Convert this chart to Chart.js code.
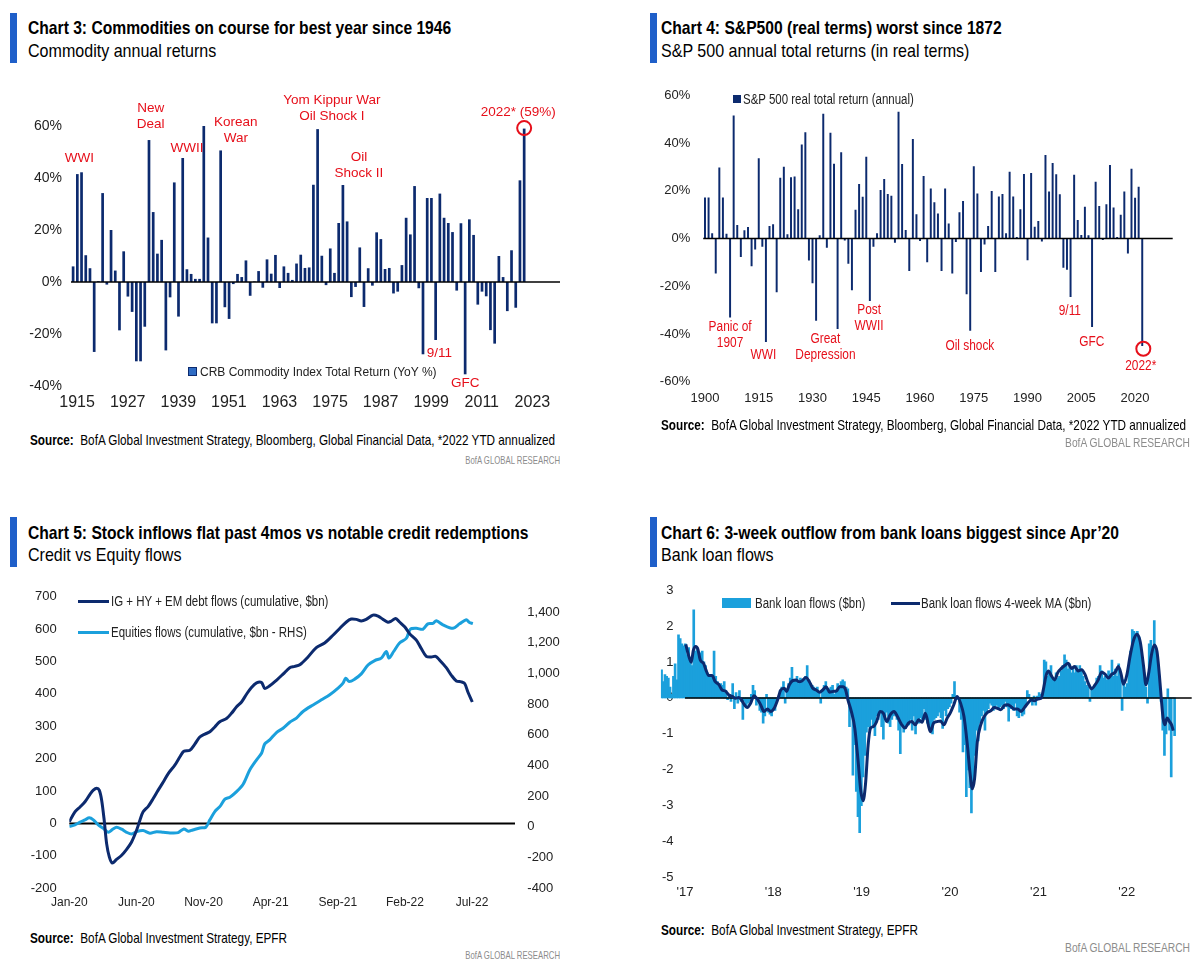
<!DOCTYPE html>
<html lang="en">
<head>
<meta charset="UTF-8">
<title>Commodities, S&amp;P 500, credit and bank loan flows</title>
<script src="https://cdn.jsdelivr.net/npm/chart.js"></script>
<style>
  body { margin: 0; background: #fff; color: #000;
         font-family: 'Liberation Sans', Arial, sans-serif; }
  #page { position: relative; width: 1201px; height: 970px; overflow: hidden; }
  .abs { position: absolute; white-space: nowrap; transform-origin: 0 50%; }
  .accent { position: absolute; width: 7px; height: 50px; background: #1f5fc9; }
  .title { font-weight: bold; font-size: 19px; line-height: 22px; transform: scaleX(0.823); }
  .subtitle { font-size: 19px; line-height: 22px; transform: scaleX(0.845); }
  .source { font-size: 14.5px; line-height: 18px; transform: scaleX(0.81); }
  .brand { font-size: 10.5px; line-height: 14px; color: #8c8c8c; text-align: right; width: 200px;
           transform: scaleX(0.74); transform-origin: 100% 50%; }
  .brand.big { font-size: 12.5px; transform: scaleX(0.82); }
  .legend { font-size: 14px; line-height: 16px; color: #222; transform: scaleX(0.82); }
  canvas { position: absolute; }
</style>
</head>
<body>
<div id="page">
  <!-- Chart 3 -->
  <div class="accent" style="left:10px;top:13px"></div>
  <div class="abs title" style="left:28px;top:17px">Chart 3: Commodities on course for best year since 1946</div>
  <div class="abs subtitle" style="left:28px;top:40px">Commodity annual returns</div>
  <canvas id="c3" width="600" height="340" style="left:0;top:80px;width:600px;height:340px"></canvas>
  <div class="abs" style="left:188px;top:367px;width:9px;height:9px;background:#2f6cc4;border:1.5px solid #0c2a6e;box-sizing:border-box"></div>
  <div class="abs legend" style="left:200px;top:364px;font-size:12px;transform:none">CRB Commodity Index Total Return (YoY %)</div>
  <div class="abs source" style="left:30px;top:431px"><b>Source:</b>&nbsp; BofA Global Investment Strategy, Bloomberg, Global Financial Data, *2022 YTD annualized</div>
  <div class="abs brand" style="left:360px;top:453px">BofA GLOBAL RESEARCH</div>

  <!-- Chart 4 -->
  <div class="accent" style="left:650px;top:13px"></div>
  <div class="abs title" style="left:661px;top:17px">Chart 4: S&amp;P500 (real terms) worst since 1872</div>
  <div class="abs subtitle" style="left:661px;top:40px">S&amp;P 500 annual total returns (in real terms)</div>
  <canvas id="c4" width="601" height="340" style="left:600px;top:80px;width:601px;height:340px"></canvas>
  <div class="abs" style="left:733px;top:95px;width:8px;height:8px;background:#0c2a6e"></div>
  <div class="abs legend" style="left:743px;top:91px">S&amp;P 500 real total return (annual)</div>
  <div class="abs source" style="left:661px;top:416px"><b>Source:</b>&nbsp; BofA Global Investment Strategy, Bloomberg, Global Financial Data, *2022 YTD annualized</div>
  <div class="abs brand big" style="left:990px;top:436px">BofA GLOBAL RESEARCH</div>

  <!-- Chart 5 -->
  <div class="accent" style="left:10px;top:517px"></div>
  <div class="abs title" style="left:28px;top:522px">Chart 5: Stock inflows flat past 4mos vs notable credit redemptions</div>
  <div class="abs subtitle" style="left:28px;top:544px">Credit vs Equity flows</div>
  <canvas id="c5" width="600" height="340" style="left:0;top:580px;width:600px;height:340px"></canvas>
  <div class="abs" style="left:78px;top:600px;width:31px;height:3px;background:#0c2a6e"></div>
  <div class="abs legend" style="left:111px;top:593px">IG + HY + EM debt flows (cumulative, $bn)</div>
  <div class="abs" style="left:78px;top:631px;width:31px;height:3px;background:#1ba0dc"></div>
  <div class="abs legend" style="left:111px;top:624px">Equities flows (cumulative, $bn - RHS)</div>
  <div class="abs source" style="left:30px;top:929px"><b>Source:</b>&nbsp; BofA Global Investment Strategy, EPFR</div>
  <div class="abs brand" style="left:360px;top:948px">BofA GLOBAL RESEARCH</div>

  <!-- Chart 6 -->
  <div class="accent" style="left:650px;top:517px"></div>
  <div class="abs title" style="left:661px;top:522px">Chart 6: 3-week outflow from bank loans biggest since Apr’20</div>
  <div class="abs subtitle" style="left:661px;top:544px">Bank loan flows</div>
  <canvas id="c6" width="601" height="340" style="left:600px;top:580px;width:601px;height:340px"></canvas>
  <div class="abs" style="left:722px;top:598px;width:29px;height:10px;background:#1ba0dc"></div>
  <div class="abs legend" style="left:755px;top:595px">Bank loan flows ($bn)</div>
  <div class="abs" style="left:891px;top:602px;width:29px;height:3px;background:#0c2a6e"></div>
  <div class="abs legend" style="left:921px;top:595px">Bank loan flows 4-week MA ($bn)</div>
  <div class="abs source" style="left:661px;top:921px"><b>Source:</b>&nbsp; BofA Global Investment Strategy, EPFR</div>
  <div class="abs brand big" style="left:990px;top:941px">BofA GLOBAL RESEARCH</div>
</div>

<script>
// ---- data: chart 3, CRB commodity index total return, 1915-2022 (%)
const crbYears = Array.from({ length: 116 }, (_, i) => 1915 + i);
const crbTicks = [-40, -20, 0, 20, 40, 60];
const crbReturns = [
  6.0, 41.5, 42.2, 10.3, 5.3, -26.9, 0.3, 34.2, -1.0, 20.0,
  4.4, -18.6, 11.8, -5.6, -11.5, -30.5, -30.5, -17.2, 54.6, 26.9,
  10.9, 16.2, -26.3, -5.9, 38.3, -13.3, 47.7, 4.9, 3.1, 1.2,
  1.2, 60.0, 17.1, -15.9, -15.9, 50.6, -9.7, -14.2, -0.8, 3.1,
  1.9, 8.3, -5.3, 0.2, 4.2, -2.2, 8.7, 3.2, 10.4, -2.3,
  6.0, 3.5, 0.8, 7.1, 10.5, 5.4, 5.6, 37.4, 58.8, 10.1,
  -1.2, 12.9, 3.5, 22.7, 37.3, 23.3, -5.8, -1.9, 13.3, -9.6,
  5.3, -1.4, 19.1, 16.5, 5.0, 5.4, -4.4, -3.7, 6.5, 24.7,
  18.3, 36.9, -2.4, -27.8, 32.3, 32.3, -22.3, 34.0, 24.7, 22.7,
  19.2, -3.3, 22.6, -35.5, 24.1, 18.1, -8.7, -3.7, -5.5, -18.5,
  -23.7, 10.0, 1.9, -11.2, 12.2, -9.9, 39.1, 59.0
];
const crbNotes = [
  { text: ['WWI'], year: 1916.5, y: 47.5 },
  { text: ['New', 'Deal'], year: 1933.4, y: 63.8 },
  { text: ['WWII'], year: 1942.0, y: 51.5 },
  { text: ['Korean', 'War'], year: 1953.6, y: 58.4 },
  { text: ['Yom Kippur War', 'Oil Shock I'], year: 1976.4, y: 66.8 },
  { text: ['Oil', 'Shock II'], year: 1982.8, y: 44.8 },
  { text: ['9/11'], year: 2001.9, y: -27.3 },
  { text: ['GFC'], year: 2008.0, y: -39.1 },
  { text: ['2022* (59%)'], year: 2020.6, y: 65.2 }
];
const crbCircle = { year: 2022, y: 59.2 };

// ---- data: chart 4, S&P 500 real total return, 1900-2022 (%)
const spxYears = Array.from({ length: 131 }, (_, i) => 1900 + i);
const spxTicks = [-60, -40, -20, 0, 20, 40, 60];
const spxReturns = [
  17.2, 17.2, 2.2, -14.7, 29.7, 17.2, 2.0, -33.1, 51.5, 5.7,
  -7.8, 3.5, 4.8, -11.6, -4.6, 33.6, -3.5, -43.4, 5.2, 6.0,
  -22.5, 25.5, 30.1, 1.8, 25.7, 26.0, 12.3, 39.4, 44.5, -9.2,
  -18.7, -34.5, 1.4, 52.3, -3.9, 44.3, 31.3, -37.9, 36.1, -0.8,
  -10.6, -21.7, 12.0, 22.8, 17.5, 34.3, -26.2, -3.5, 2.2, 20.3,
  24.9, 18.6, 17.9, -1.8, 53.1, 31.2, 3.6, -13.6, 41.7, 10.2,
  -1.0, 26.2, -9.9, 21.0, 15.2, 10.5, -13.6, 21.0, 6.3, -14.7,
  -1.5, 11.0, 15.7, -23.4, -38.7, 30.3, 18.9, -14.0, -2.5, 5.2,
  19.9, -14.0, 17.6, 18.6, 2.2, 28.0, 17.6, 0.6, 12.3, 27.0,
  -9.1, 27.4, 4.9, 7.3, -1.3, 35.0, 19.7, 31.6, 26.9, 18.5,
  -12.3, -13.1, -24.5, 26.7, 7.7, 1.5, 13.3, 1.4, -37.1, 23.8,
  13.6, -0.6, 14.4, 30.8, 13.0, 0.6, 9.9, 19.7, -6.3, 29.2,
  17.1, 21.7, -45.0
];
const spxNotes = [
  { text: ['Panic of', '1907'], year: 1907.0, y: -40.6 },
  { text: ['WWI'], year: 1916.3, y: -49.0 },
  { text: ['Great', 'Depression'], year: 1933.6, y: -45.6 },
  { text: ['Post', 'WWII'], year: 1945.8, y: -33.3 },
  { text: ['Oil shock'], year: 1973.9, y: -45.0 },
  { text: ['9/11'], year: 2001.8, y: -30.3 },
  { text: ['GFC'], year: 2007.9, y: -43.3 },
  { text: ['2022*'], year: 2021.6, y: -53.5 }
];
const spxCircle = { year: 2022.3, y: -46.2 };

// ---- data: chart 5, cumulative flows ($bn), x = months since Jan-20
const flowTickMonths = [0, 5, 10, 15, 20, 25, 30];
const flowTickLabels = ['Jan-20', 'Jun-20', 'Nov-20', 'Apr-21', 'Sep-21', 'Feb-22', 'Jul-22'];
const debtTicks = [-200, -100, 0, 100, 200, 300, 400, 500, 600, 700];
const equityTicks = [-400, -200, 0, 200, 400, 600, 800, 1000, 1200, 1400];
const debtMonth = [0, 0.42, 0.8, 1.17, 1.54, 1.79, 2.04, 2.23, 2.41, 2.6,
  2.78, 2.98, 3.2, 3.52, 3.9, 4.27, 4.64, 5.01, 5.26, 5.5,
  5.88, 6.25, 6.62, 7, 7.37, 7.86, 8.24, 8.53, 8.98, 9.35,
  9.72, 10.1, 10.47, 10.84, 11.21, 11.71, 12.08, 12.46, 12.83, 13.2,
  13.57, 13.95, 14.32, 14.56, 14.93, 15.43, 15.92, 16.42, 16.79, 17.17,
  17.78, 18.4, 19.02, 19.64, 20.14, 20.64, 21.0, 21.38, 21.75, 22.12,
  22.62, 23.0, 23.37, 23.74, 23.99, 24.31, 24.6, 24.98, 25.35, 25.85,
  26.22, 26.59, 26.97, 27.29, 27.59, 28.08, 28.45, 28.83, 29.2, 29.45,
  29.69, 30.02];
const debtFlows = [5, 36, 51, 67, 90, 103, 109, 103, 72, 10,
  -62, -103, -122, -111, -98, -80, -57, -21, 10, 36,
  53, 77, 103, 128, 154, 180, 206, 223, 226, 245,
  267, 276, 283, 298, 314, 324, 340, 360, 375, 399,
  420, 434, 435, 417, 425, 442, 461, 481, 485, 490,
  514, 543, 557, 581, 602, 622, 631, 630, 625, 630,
  643, 640, 630, 621, 625, 633, 622, 607, 586, 566,
  540, 516, 514, 516, 504, 481, 458, 440, 437, 432,
  406, 375];
const equityMonth = [0, 0.42, 0.8, 1.17, 1.49, 1.79, 2.16, 2.53, 2.9, 3.23,
  3.52, 3.9, 4.27, 4.64, 5.01, 5.5, 6.0, 6.5, 7, 7.5,
  8.11, 8.53, 8.86, 9.2, 9.72, 10.17, 10.47, 10.84, 11.21, 11.59,
  11.96, 12.46, 12.95, 13.45, 13.95, 14.32, 14.56, 14.93, 15.43, 15.92,
  16.42, 16.92, 17.41, 18.16, 18.78, 19.4, 20.02, 20.39, 20.59, 20.84,
  21.26, 21.75, 22.25, 22.75, 23.24, 23.62, 23.81, 24.16, 24.6, 25.1,
  25.4, 25.85, 26.34, 26.71, 27.09, 27.34, 27.83, 28.58, 29.07, 29.57,
  29.81, 30.06];
const equityFlows = [2, 13, 31, 46, 59, 46, 13, -9, -35, -15,
  -2, -15, -35, -46, -31, -24, -41, -31, -35, -39,
  -37, -13, -28, -20, -7, -2, 46, 100, 132, 181,
  194, 230, 278, 372, 437, 480, 541, 567, 615, 643,
  682, 709, 752, 795, 828, 861, 904, 937, 969, 947,
  963, 997, 1055, 1084, 1100, 1143, 1100, 1143, 1198, 1228,
  1288, 1294, 1288, 1323, 1326, 1343, 1317, 1294, 1323, 1350,
  1332, 1325];

// ---- data: chart 6, weekly bank loan flows ($bn), first week 26-Sep-2016
const loanStart = Date.UTC(2016, 8, 26);
const loanYearLabels = ["'17", "'18", "'19", "'20", "'21", "'22"];
const loanTicks = [-5, -4, -3, -2, -1, 0, 1, 2, 3];
const loanFlows = [
  0.78, 0.45, 0.65, 0.6, 0.55, 0.3, 0.1, 0.6, 0.95, 0.5,
  1.75, 1.65, 1.5, 1.45, 1.5, 1.2, 1.4, 1.1, 0.9, 2.45,
  1.3, 1.4, 1.2, 1.25, 1.3, 1.0, 0.9, 0.7, 0.6, 0.65,
  0.55, 1.3, 0.6, 0.45, 0.3, 0.4, 0.35, 0.45, 0.2, -0.05,
  0.1, -0.1, 0.4, -0.3, 0.15, -0.15, 0.2, -0.1, -0.6, -0.1,
  -0.25, -0.15, -0.1, 0.1, 0.35, 0.2, -0.2, -0.1, -0.35, -0.4,
  -0.7, -0.5, 0.1, -0.4, -0.45, -0.5, -0.3, -0.35, -0.1, 0.0,
  0.2, 0.3, 0.45, -0.15, 0.25, 0.4, 0.55, 0.85, 0.5, 0.45,
  0.6, 0.4, 0.55, 0.5, 0.45, 0.6, 0.9, 0.5, 0.4, 0.35,
  0.3, 0.25, 0.3, 0.15, -0.15, 0.2, 0.35, 0.45, 0.2, 0.25,
  0.3, 0.35, 0.1, 0.2, 0.4, 0.35, 0.45, 0.5, 0.45, 0.3,
  0.25, -0.8, -0.3, -2.15, -1.3, -2.6, -3.3, -3.75, -3.0, -2.2,
  -1.6, -0.95, -0.8, -0.9, -0.6, -0.8, -1.05, -0.5, -0.6, -0.4,
  -0.8, -1.15, -0.5, -0.4, -0.7, -0.8, -0.6, -0.5, -0.45, -0.6,
  -0.9, -1.55, -0.7, -0.95, -0.85, -0.7, -0.75, -0.6, -0.9, -0.5,
  -1.0, -0.6, -0.7, -0.55, -0.6, -0.3, -0.6, -0.7, -0.75, -0.9,
  -1.0, -0.6, -0.55, -0.5, -0.4, -0.55, -0.85, -0.35, -0.5, -0.3,
  -0.25, -0.15, 0.1, 0.45, 0.05, -0.05, -0.4, -0.6, -1.5, -1.3,
  -2.75, -2.0, -2.5, -3.2, -2.4, -1.6, -0.9, -1.2, -0.7, -0.5,
  -0.35, -0.9, -0.4, -0.3, -0.15, -0.2, -0.35, -0.3, -0.2, -0.3,
  -0.25, -0.2, -0.3, -0.1, -0.25, -0.65, -0.3, -0.2, -0.35, -0.15,
  -0.5, -0.55, -0.35, -0.5, -0.45, -0.25, 0.2, 0.1, -0.1, -0.2,
  0.05, -0.2, 0.05, 0.15, 0.1, 0.05, 1.05, 1.0, 0.6, 0.75,
  0.9, 0.55, 0.5, 0.7, 0.55, 0.6, 0.75, 0.9, 1.2, 1.05,
  0.8, 0.95, 0.7, 0.85, 0.7, 0.9, 0.75, 0.9, 0.8, 0.6,
  0.45, 0.35, 0.3, -0.1, 0.3, 0.25, 0.35, 0.55, 0.6, 0.9,
  0.75, 0.55, 0.6, 0.5, 0.75, 0.65, 1.05, 0.6, 0.8, 0.6,
  0.95, 0.7, -0.35, 0.5, 0.3, 0.4, 0.9, 1.3, 1.9, 1.85,
  1.8, 1.85, 1.7, 1.3, 0.9, 0.7, 0.3, -0.15, 1.5, 1.6,
  1.2, 2.15, 1.3, 1.0, 0.5, -0.1, -0.9, -1.6, -1.0, 0.25,
  -0.9, -2.2, 0.0, -1.05
];
// 4-week MA (x = week number)
const maWeek = [14.3, 15.9, 17.5, 18.8, 20.2, 21.4, 22.8, 24.8, 26.2, 27.8,
  29.8, 31.7, 33.7, 35.7, 37.7, 39.7, 41.7, 43.7, 45.6, 47.2,
  49.2, 50.6, 52.6, 54.6, 56.5, 58.5, 60.5, 62.5, 64.5, 66.5,
  68.5, 70.4, 72.4, 73.8, 75.4, 77.4, 79.4, 81, 82.9, 85.3,
  87.3, 89.3, 91.3, 93.3, 95.2, 97.2, 99.2, 101.2, 103.2, 105.2,
  107.1, 108.7, 110.1, 112.1, 114.1, 116.1, 117.7, 119, 120.4, 122,
  123.4, 125, 127, 129, 131, 133, 135, 137.3, 139.3, 141.9,
  143.8, 145.8, 147.8, 149.8, 151.8, 153.8, 155.8, 158.7, 160.7, 162.7,
  164.7, 166.7, 168.7, 170.6, 172.6, 174.6, 176.6, 178.6, 180.6, 182.1,
  183.5, 184.9, 186.5, 188.5, 190.5, 192.5, 194.4, 196.4, 198.4, 200.4,
  202.4, 204.4, 206.3, 208.3, 210.3, 212.3, 214.3, 216.3, 218.3, 220.2,
  222.2, 224.2, 225.8, 227.2, 228.6, 230.2, 232.1, 234.1, 236.1, 238.1,
  240.1, 242.1, 244, 246, 248, 250, 252, 254, 256, 257.9,
  259.9, 261.9, 263.9, 265.9, 267.9, 269.8, 271.4, 272.8, 274.8, 276.8,
  278.8, 280.8, 282.7, 284.7, 286.1, 287.7, 289.3, 291, 292.6, 294,
  295.2, 296.2, 297.2, 298.6, 300, 301.2, 302.2];
const maFlows = [1.49, 1.19, 0.99, 1.33, 1.43, 1.36, 1.06, 0.96, 0.78, 0.62,
  0.62, 0.45, 0.38, 0.22, 0.19, 0.08, 0.04, -0.01, 0.01, -0.06,
  -0.21, -0.27, -0.15, 0.06, -0.03, -0.19, -0.38, -0.31, -0.38, -0.29,
  -0.06, 0.22, 0.27, 0.18, 0.36, 0.48, 0.5, 0.45, 0.47, 0.57,
  0.45, 0.27, 0.22, 0.16, 0.22, 0.31, 0.16, 0.18, 0.19, 0.31,
  0.31, 0.22, -0.06, -0.38, -0.84, -1.77, -2.6, -2.86, -2.42, -1.31,
  -0.84, -0.8, -0.66, -0.38, -0.43, -0.66, -0.47, -0.38, -0.52, -0.75,
  -0.84, -0.7, -0.66, -0.75, -0.61, -0.68, -0.43, -0.94, -0.7, -0.66,
  -0.64, -0.75, -0.56, -0.41, -0.19, 0.04, -0.15, -0.52, -1.31, -2.05,
  -2.53, -2.23, -1.21, -0.75, -0.52, -0.4, -0.36, -0.27, -0.29, -0.33,
  -0.21, -0.19, -0.24, -0.31, -0.31, -0.38, -0.27, -0.15, -0.06, -0.08,
  -0.03, -0.01, 0.31, 0.64, 0.75, 0.62, 0.5, 0.71, 0.82, 0.9,
  0.96, 0.82, 0.87, 0.75, 0.78, 0.66, 0.41, 0.25, 0.36, 0.5,
  0.71, 0.66, 0.55, 0.66, 0.71, 0.87, 0.66, 0.38, 0.64, 1.19,
  1.61, 1.77, 1.56, 0.87, 0.36, 0.69, 1.19, 1.47, 1.29, 0.64,
  -0.06, -0.56, -0.75, -0.56, -0.66, -0.75, -0.91];

// ---- styling
const NAVY = '#0c2a6e';
const LIGHT = '#1ba0dc';
const RED = '#e60f1a';

Chart.defaults.font.family = "'Liberation Sans', Arial, sans-serif";
Chart.defaults.color = '#222';
Chart.defaults.animation = false;
Chart.defaults.responsive = false;
Chart.defaults.plugins.legend.display = false;
Chart.defaults.plugins.tooltip.enabled = false;

const noGrid = { display: false, drawTicks: false };
const noBorder = { display: false };
const fixTicks = values => s => { s.ticks = values.map(v => ({ value: v })); };
// pin axis box sizes so the plot area lands where the original one is
const fixX = h => s => { s.height = h; s.paddingLeft = 0; s.paddingRight = 0; };
const fixY = w => s => { s.width = w; s.paddingTop = 0; s.paddingBottom = 0; };

// zero line + red call-outs, anchored in data space
function callouts(notes, circle, firstYear, font, gap, squeeze) {
  return {
    id: 'callouts',
    afterDatasetsDraw(chart) {
      const { ctx, chartArea: a, scales: { x, y } } = chart;
      const y0 = y.getPixelForValue(0);
      ctx.save();
      ctx.strokeStyle = '#000';
      ctx.lineWidth = 1.5;
      ctx.beginPath();
      ctx.moveTo(a.left, y0);
      ctx.lineTo(a.right, y0);
      ctx.stroke();

      ctx.fillStyle = RED;
      ctx.font = font;
      ctx.textAlign = 'center';
      ctx.textBaseline = 'middle';
      notes.forEach(n => {
        const px = x.getPixelForValue(n.year - firstYear);
        const py = y.getPixelForValue(n.y);
        n.text.forEach((t, k) => {
          ctx.save();
          ctx.translate(px, py + (k - (n.text.length - 1) / 2) * gap);
          ctx.scale(squeeze, 1);
          ctx.fillText(t, 0, 0);
          ctx.restore();
        });
      });
      ctx.strokeStyle = RED;
      ctx.lineWidth = 2;
      ctx.beginPath();
      ctx.arc(x.getPixelForValue(circle.year - firstYear), y.getPixelForValue(circle.y), 7, 0, Math.PI * 2);
      ctx.stroke();
      ctx.restore();
    }
  };
}

// Chart 3
new Chart(document.getElementById('c3'), {
  type: 'bar',
  data: {
    labels: crbYears,
    datasets: [{ data: crbReturns, backgroundColor: NAVY, barPercentage: 0.64, categoryPercentage: 1 }]
  },
  options: {
    layout: { padding: { left: 0, right: 40, top: 20, bottom: 9 } },
    scales: {
      x: {
        grid: noGrid, border: noBorder,
        ticks: {
          autoSkip: false, maxRotation: 0, minRotation: 0, padding: 7, labelOffset: 4,
          font: { size: 16 },
          callback: (v, i) => (i % 12 === 0 ? String(crbYears[i]) : null)
        },
        afterFit: fixX(25)
      },
      y: {
        min: -40, max: 70,
        grid: noGrid, border: noBorder,
        afterBuildTicks: fixTicks(crbTicks),
        ticks: { padding: 9, font: { size: 14 }, callback: v => v + '%' },
        afterFit: fixY(71)
      }
    }
  },
  plugins: [callouts(crbNotes, crbCircle, 1915, "13.5px 'Liberation Sans', Arial, sans-serif", 16.5, 1)]
});

// Chart 4
new Chart(document.getElementById('c4'), {
  type: 'bar',
  data: {
    labels: spxYears,
    datasets: [{ data: spxReturns, backgroundColor: NAVY, barPercentage: 0.55, categoryPercentage: 1 }]
  },
  options: {
    layout: { padding: { left: 0, right: 28.3, top: 15.3, bottom: 13.3 } },
    scales: {
      x: {
        grid: noGrid, border: noBorder,
        ticks: {
          autoSkip: false, maxRotation: 0, minRotation: 0, padding: 8.5,
          font: { size: 13 },
          callback: (v, i) => (i % 15 === 0 && spxYears[i] <= 2020 ? String(spxYears[i]) : null)
        },
        afterFit: fixX(25)
      },
      y: {
        min: -60, max: 60,
        grid: noGrid, border: noBorder,
        afterBuildTicks: fixTicks(spxTicks),
        ticks: { padding: 13, font: { size: 13 }, callback: v => v + '%' },
        afterFit: fixY(103.2)
      }
    }
  },
  plugins: [callouts(spxNotes, spxCircle, 1900, "14px 'Liberation Sans', Arial, sans-serif", 16, 0.85)]
});

// Chart 5
new Chart(document.getElementById('c5'), {
  type: 'line',
  data: {
    datasets: [
      {
        data: debtMonth.map((m, i) => ({ x: m, y: debtFlows[i] })),
        yAxisID: 'y', borderColor: NAVY, borderWidth: 3, pointRadius: 0, tension: 0.3
      },
      {
        data: equityMonth.map((m, i) => ({ x: m, y: equityFlows[i] })),
        yAxisID: 'y1', borderColor: LIGHT, borderWidth: 3, pointRadius: 0, tension: 0.3
      }
    ]
  },
  options: {
    layout: { padding: { left: 0, right: 0, top: 16.7, bottom: 6.7 } },
    scales: {
      x: {
        type: 'linear', min: 0, max: 33.2,
        grid: noGrid, border: noBorder,
        afterBuildTicks: fixTicks(flowTickMonths),
        ticks: { maxRotation: 0, padding: 7.5, font: { size: 12 },
                 callback: (v, i) => flowTickLabels[i] },
        afterFit: fixX(25)
      },
      y: {
        position: 'left', min: -200, max: 700,
        grid: noGrid, border: noBorder,
        afterBuildTicks: fixTicks(debtTicks),
        ticks: { padding: 12.6, font: { size: 13 } },
        afterFit: fixY(69.3)
      },
      y1: {
        position: 'right', min: -400, max: 1500,
        grid: noGrid, border: noBorder,
        afterBuildTicks: fixTicks(equityTicks),
        ticks: { padding: 12.3, font: { size: 13 }, callback: v => v.toLocaleString('en-US') },
        afterFit: fixY(85)
      }
    }
  },
  plugins: [{
    id: 'flowZero',
    beforeDatasetsDraw(chart) {
      const { ctx, chartArea: a, scales: { y } } = chart;
      const y0 = y.getPixelForValue(0);
      ctx.save();
      ctx.strokeStyle = '#000';
      ctx.lineWidth = 2;
      ctx.beginPath();
      ctx.moveTo(a.left, y0);
      ctx.lineTo(a.right, y0);
      ctx.stroke();
      ctx.restore();
    }
  }]
});

// Chart 6
const weekOfYear = yy => (Date.UTC(2000 + yy, 0, 1) - loanStart) / (7 * 864e5);
const loanTickWeeks = loanYearLabels.map(l => weekOfYear(Number(l.slice(1))));

new Chart(document.getElementById('c6'), {
  type: 'bar',
  data: {
    datasets: [
      {
        type: 'line', order: 0,
        data: maWeek.map((w, i) => ({ x: w, y: maFlows[i] })),
        borderColor: NAVY, borderWidth: 3, pointRadius: 0, tension: 0.3, cubicInterpolationMode: 'monotone'
      },
      {
        type: 'bar', order: 1,
        data: loanFlows.map((v, i) => ({ x: i, y: v })),
        backgroundColor: LIGHT, barThickness: 2
      }
    ]
  },
  options: {
    layout: { padding: { left: 0, right: 9.3, top: 10, bottom: 12.3 } },
    scales: {
      x: {
        type: 'linear', min: -0.4, max: 313.1, offset: false,
        grid: noGrid, border: noBorder,
        afterBuildTicks: fixTicks(loanTickWeeks),
        ticks: { maxRotation: 0, padding: 7.2, font: { size: 13 },
                 callback: (v, i) => loanYearLabels[i] },
        afterFit: fixX(30)
      },
      y: {
        min: -5, max: 3,
        grid: noGrid, border: noBorder,
        afterBuildTicks: fixTicks(loanTicks),
        ticks: { mirror: true, crossAlign: 'far', padding: 1, font: { size: 13 } },
        afterFit: fixY(60.9)
      }
    }
  },
  plugins: [{
    id: 'loanZero',
    afterDatasetDraw(chart, args) {
      if (args.meta.type !== 'bar') return;
      const { ctx, chartArea: a, scales: { x, y } } = chart;
      const y0 = y.getPixelForValue(0);
      ctx.save();
      ctx.strokeStyle = '#000';
      ctx.lineWidth = 1.5;
      ctx.beginPath();
      ctx.moveTo(x.getPixelForValue(loanTickWeeks[0]), y0);
      ctx.lineTo(a.right, y0);
      ctx.stroke();
      ctx.restore();
    }
  }]
});
</script>
</body>
</html>
